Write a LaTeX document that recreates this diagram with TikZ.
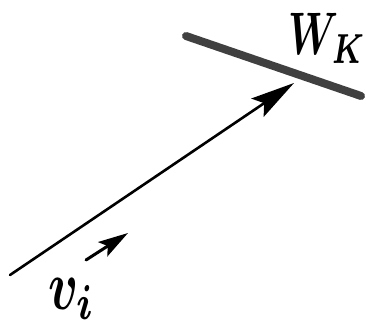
\documentclass[tikz,border=0pt]{standalone}
\usetikzlibrary{arrows.meta}

\begin{document}
\begin{tikzpicture}[
    x=1pt, y=-1pt,
    surface/.style={line width=8pt, draw=black!75, line cap=round},
    ray/.style={-{Stealth[length=44pt, width=22pt, inset=8pt]}, line width=2.6pt, line cap=round},
    dirarrow/.style={-{Stealth[length=30pt, width=17pt, inset=6pt]}, line width=3pt, line cap=round},
    hand/.style={inner sep=0pt},
]
\useasboundingbox (0,0) rectangle (366,329);

% =================================================
% Surface W_K
% =================================================
\coordinate (wleft)  at (186,36);
\coordinate (wright) at (361,96);
\draw[surface] (wleft) -- (wright);
\node[hand] (wlabel) at (327,38) {\scalebox{4}[6]{\boldmath$W_K$}};

% =================================================
% Vector v_i
% =================================================
\coordinate (vstart) at (10,275);
\coordinate (vtip)   at (294,83);
\draw[ray] (vstart) -- (vtip);

\coordinate (dstart) at (86,260);
\coordinate (dtip)   at (128,233);
\draw[dirarrow] (dstart) -- (dtip);
\node[hand] (vlabel) at (72,299) {\scalebox{5}[7]{\boldmath$v_i$}};

\end{tikzpicture}
\end{document}
